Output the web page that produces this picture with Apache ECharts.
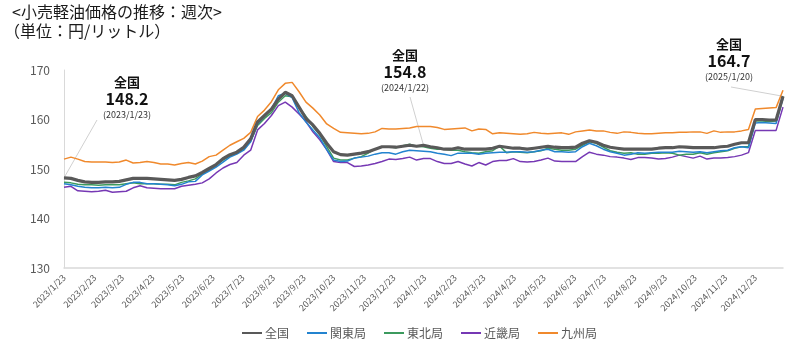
<!DOCTYPE html>
<html><head><meta charset="utf-8">
<script src="https://cdn.jsdelivr.net/npm/echarts@6/dist/echarts.min.js"></script>
<style>html,body{margin:0;padding:0;background:#fff}#c{width:800px;height:358px}</style>
</head><body><div id="c"></div>
<script>
// ---- data ----
const startDate = '2023/1/23';   // first weekly survey date
const endDate = '2025/1/20';     // last weekly survey date
const seriesNames = ['全国', '関東局', '東北局', '近畿局', '九州局'];
const yTicks = [130, 140, 150, 160, 170];

const national = [
 148.2,148.1,147.7,147.4,147.3,147.3,147.4,147.4,147.5,147.8,148.1,148.1,148.1,148.0,147.9,147.8,147.7,147.9,148.3,
 148.6,149.3,150.1,150.9,152.1,152.9,153.4,154.4,156.1,159.5,160.8,162.1,164.1,165.5,164.8,162.5,
 160.2,158.9,157.2,155.2,153.5,152.9,152.8,153.0,153.2,153.5,154.0,154.5,154.5,154.4,154.6,154.8,154.6,154.8,
 154.5,154.3,154.0,154.0,154.3,154.0,154.0,154.0,154.0,154.2,154.6,154.4,154.2,154.2,154.0,154.2,154.4,
 154.6,154.4,154.3,154.3,154.4,155.2,155.7,155.4,154.8,154.4,154.2,154.0,154.0,154.0,154.0,154.0,154.2,
 154.3,154.3,154.5,154.4,154.3,154.3,154.3,154.3,154.5,154.6,155.0,155.3,155.3,160.0,160.0,159.9,159.9,164.7
];
const kanto = [
 147.0,146.8,146.5,146.3,146.2,146.2,146.3,146.2,146.3,146.9,147.3,147.3,147.0,147.0,146.9,146.8,146.6,146.9,147.4,
 147.5,148.8,149.6,150.4,151.4,152.4,153.0,153.8,155.5,159.1,160.6,162.1,164.8,165.3,164.4,161.4,
 159.5,157.9,156.3,153.9,151.8,151.5,151.6,152.2,152.4,152.6,153.0,153.3,153.3,153.0,153.5,153.8,153.7,153.6,
 153.5,153.2,153.0,152.7,153.2,153.2,153.2,153.0,153.2,153.3,153.4,153.4,153.5,153.5,153.4,153.5,153.8,
 154.0,153.5,153.5,153.4,153.5,154.5,155.2,154.7,154.0,153.5,153.2,152.8,153.0,153.3,153.2,153.3,153.4,
 153.4,153.4,153.6,153.5,153.4,153.5,153.3,153.5,153.7,153.8,154.3,154.5,154.3,159.3,159.4,159.3,159.2,164.3
];
const tohoku = [
 147.3,147.2,146.9,146.8,146.8,146.7,146.8,146.8,146.8,147.0,147.2,147.0,147.0,147.0,146.9,146.9,146.8,147.3,147.6,
 148.0,149.0,149.9,150.8,151.8,152.6,153.2,154.0,155.6,158.8,160.2,161.4,163.5,164.8,164.6,162.5,
 160.6,158.6,156.9,154.5,152.2,151.8,151.8,152.2,152.5,153.2,154.0,154.5,154.5,154.3,154.7,155.0,154.6,154.5,
 154.2,154.0,154.0,153.8,153.8,153.5,153.3,153.2,153.5,153.7,154.6,153.3,153.5,153.4,153.3,153.5,153.7,
 154.2,154.0,153.8,153.8,154.0,154.8,155.5,155.2,154.4,153.7,153.4,153.2,153.3,153.0,153.0,153.2,153.2,
 153.3,153.2,152.8,153.0,153.0,153.3,153.0,153.3,153.5,153.7,154.2,154.5,154.5,159.7,159.7,159.6,159.7,164.7
];
const kinki = [
 146.3,146.5,145.6,145.5,145.4,145.5,145.7,145.3,145.4,145.5,146.2,146.6,146.2,146.1,146.0,146.0,146.0,146.5,146.7,
 146.9,147.2,148.0,149.2,150.2,150.9,151.3,152.8,153.8,157.9,159.2,160.8,162.8,163.5,162.5,161.1,
 159.6,157.5,155.9,153.9,151.5,151.3,151.3,150.5,150.6,150.8,151.1,151.5,152.0,151.9,152.1,152.4,151.8,152.1,
 152.1,151.5,151.1,151.1,151.5,151.0,150.6,151.3,150.8,151.5,151.7,151.7,152.1,151.5,151.4,151.5,151.8,
 152.2,151.6,151.5,151.5,151.5,152.5,153.4,153.0,152.8,152.5,152.4,152.2,151.9,152.3,152.3,152.2,152.0,
 152.1,152.4,152.8,152.5,152.2,152.6,152.0,152.2,152.2,152.3,152.5,152.8,153.3,157.8,157.8,157.8,157.8,162.5
];
const kyushu = [
 152.0,152.4,152.0,151.5,151.4,151.4,151.4,151.3,151.4,151.8,151.2,151.3,151.5,151.3,151.0,151.0,150.8,151.1,151.3,
 151.0,151.6,152.5,152.8,153.8,154.8,155.5,156.2,157.4,160.6,161.9,163.6,166.0,167.3,167.5,165.6,
 163.5,162.3,160.9,159.1,158.2,157.4,157.3,157.2,157.1,157.2,157.5,158.2,158.1,158.1,158.2,158.3,158.6,158.6,
 158.6,158.4,158.0,158.1,158.2,158.3,157.7,158.1,158.0,157.1,157.3,157.2,157.1,157.0,157.1,157.4,157.2,
 157.1,157.2,157.3,157.0,157.5,157.7,157.9,157.7,157.7,157.4,157.2,157.5,157.4,157.2,157.1,157.1,157.2,
 157.3,157.3,157.4,157.4,157.5,157.5,157.2,157.7,157.4,157.5,157.5,157.7,158.0,162.1,162.2,162.3,162.4,165.9
];
const annotationDates = ['2023/1/23', '2024/1/22', '2025/1/20'];

// ---- build daily category axis ----
function parseD(s){ const p = s.split('/').map(Number); return new Date(Date.UTC(p[0], p[1]-1, p[2])); }
function fmt(d){ return d.getUTCFullYear() + '/' + (d.getUTCMonth()+1) + '/' + d.getUTCDate(); }
const days = [];
for (let d = parseD(startDate); d <= parseD(endDate); d = new Date(d.getTime() + 86400000)) days.push(fmt(d));
const weekDates = [];
for (let i = 0; i < national.length; i++) weekDates.push(fmt(new Date(parseD(startDate).getTime() + i*7*86400000)));
function toPairs(arr){ return arr.map((v,i) => [weekDates[i], v]); }

const colors = ['#595959', '#2383cf', '#3c9a5e', '#7638b4', '#f0892c'];
const widths = [3.2, 1.5, 1.5, 1.5, 1.5];
const dataSets = [national, kanto, tohoku, kinki, kyushu];
const FONT = '"Noto Sans CJK JP", "Noto Sans", sans-serif';

const chart = echarts.init(document.getElementById('c'), null, {renderer: 'canvas'});
const series = seriesNames.map((n, k) => ({
  name: n, type: 'line', data: toPairs(dataSets[k]), symbol: 'none', showSymbol: false,
  lineStyle: {color: colors[k], width: widths[k]}, itemStyle: {color: colors[k]},
  z: k === 0 ? 10 : 5 - k, animation: false
}));
chart.setOption({
  animation: false,
  grid: {left: 64, right: 17, top: 70, bottom: 90},
  legend: {
    data: seriesNames.map((n, k) => ({name: n, icon: 'rect', itemStyle: {color: colors[k]}})),
    left: 237, top: 322, itemWidth: 20, itemHeight: 2, itemGap: 18,
    textStyle: {color: '#595959', fontSize: 12, fontFamily: FONT, padding: [0, 0, 0, -2]}
  },
  xAxis: {
    type: 'category', data: days, boundaryGap: false,
    axisLine: {show: true, lineStyle: {color: '#d9d9d9', width: 1.5}},
    axisTick: {show: false},
    axisLabel: {
      interval: (idx, val) => val.split('/')[2] === '23',
      rotate: 45, fontSize: 9, color: '#595959', fontFamily: FONT, margin: 8
    },
    splitLine: {show: false}
  },
  yAxis: {
    type: 'value', min: yTicks[0], max: yTicks[yTicks.length-1], interval: 10,
    axisLine: {show: true, lineStyle: {color: '#d9d9d9', width: 1}},
    axisTick: {show: false}, splitLine: {show: false},
    axisLabel: {fontSize: 12, color: '#595959', fontFamily: FONT, margin: 14}
  },
  series: series
});

// annotations (labels with leader lines to the 全国 data points)
const annLayout = [
  {cx: 127, top: 76, lineFrom: [97, 120]},
  {cx: 405, top: 49, lineFrom: [410, 97]},
  {cx: 729, top: 38, lineFrom: [731, 87]}
];
const graphics = [
  {type: 'text', left: 12, top: 4, style: {text: '<小売軽油価格の推移：週次>', font: '16px ' + FONT, fill: '#1a1a1a'}},
  {type: 'text', left: 4, top: 23, style: {text: '（単位：円/リットル）', font: '16px ' + FONT, fill: '#1a1a1a'}}
];
annotationDates.forEach((dt, j) => {
  const idx = weekDates.indexOf(dt);
  const val = national[idx];
  const p = chart.convertToPixel({gridIndex: 0}, [dt, val]);
  const L = annLayout[j];
  graphics.push({type: 'line', shape: {x1: L.lineFrom[0], y1: L.lineFrom[1], x2: p[0], y2: p[1]},
    style: {stroke: '#d0d0d0', lineWidth: 1}, z: 1});
  graphics.push({type: 'text', x: L.cx, y: L.top, style: {text: '全国', font: 'bold 13px ' + FONT, fill: '#111', textAlign: 'center'}, z: 20});
  graphics.push({type: 'text', x: L.cx, y: L.top + 15, style: {text: val.toFixed(1), font: 'bold 16px ' + FONT, fill: '#111', textAlign: 'center'}, z: 20});
  graphics.push({type: 'text', x: L.cx, y: L.top + 34, style: {text: '(' + dt + ')', font: '9px ' + FONT, fill: '#333', textAlign: 'center'}, z: 20});
});
chart.setOption({graphic: graphics});
</script>
</body></html>
